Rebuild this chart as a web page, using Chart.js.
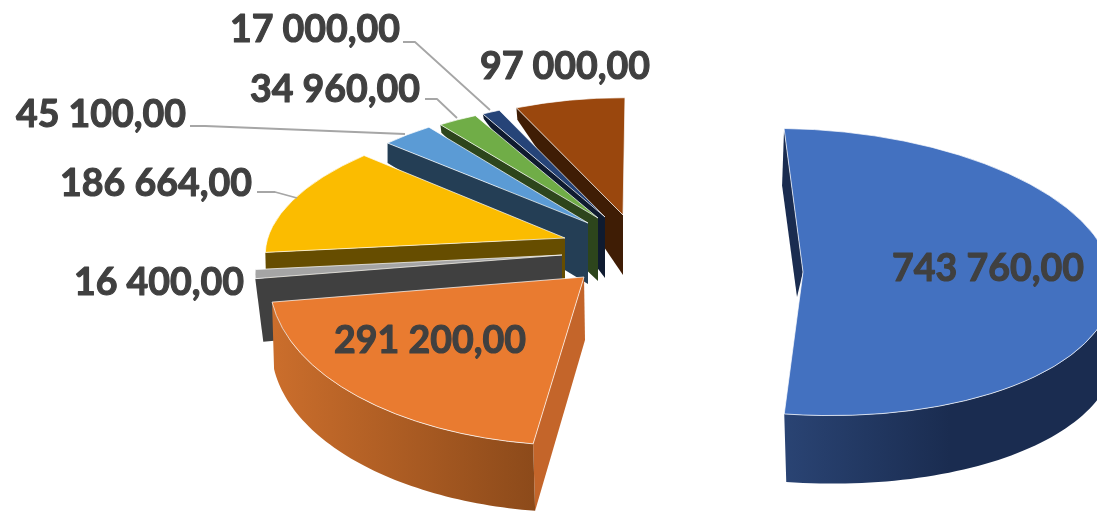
<!DOCTYPE html>
<html>
<head>
<meta charset="utf-8">
<style>html,body{margin:0;padding:0;background:#fff;overflow:hidden}canvas{display:block}</style>
<script src="https://cdn.jsdelivr.net/npm/chart.js@4"></script>
</head>
<body>
<canvas id="c" width="1097" height="511"></canvas>
<script>
// ---- data ----
const categories = ["A","B","C","D","E","F","G","H"];
const values = [743760, 291200, 16400, 186664, 45100, 34960, 17000, 97000];
const sliceColors = ["#4371C0","#E97B30","#A5A5A5","#FBBC00","#5B9BD5","#70AD47","#264478","#9A470D"];
const sideColors  = ["#1A2C50","#C4652A","#404040","#664D00","#243E55","#2D451C","#0F1B30","#3F1D05"];

// ---- 3-D pie look: explosion from the chart centre and the perspective matrix of each slice ----
const explode = [[254.5,16.5],[35.5,21.5],[13.5,-0.5],[16.5,-17.5],[39.5,-32.5],[49.5,-37.5],[56.5,-38.5],[74.5,-40.5]];
const perspective = [[310,13,0,143],[313,14,-32,168],[301,6,-60,128],[295,6,-53,127],[275,9,-28,119],[267,11,-23,114],[247,9,-11,116],[262,8,-18,117]];
// extrusion: rim depth, apex depth, rim x-shift, apex x-shift
const extrude = [[57,25,-2,-6],[67,63,2,1],[63,60,8,0],[40,60,1,0],[20,61,0,0],[8,63,1,0],[5,61,1,0],[12,60,1,0]];
const rimGradient = {0:[782,950,"#2A4474","#1A2C50"],1:[272,535,"#CB6E2C","#8C4A1A"]};
const rimThickness = {0:68,1:67};

// ---- data labels ----
const labelPos = [[988,269],[430,341],[159,283],[156,184],[101,115],[335,90],[315,30],[565,67]];
const leaderLines = {
  2:[], 0:[], 1:[], 7:[],
  3:[[257,192],[275,192],[297,198]],
  4:[[190,126],[205,126],[405,134]],
  5:[[425,99],[437,99],[457,118]],
  6:[[403,42],[415,42],[490,110]]
};
function fmt(v){
  return String(v).replace(/\B(?=(\d{3})+$)/g," ")+",00";
}

const pie3d = {
  id:"pie3d",
  beforeDatasetDraw(chart,args){
    const ctx = chart.ctx, arcs = args.meta.data;
    for(let i=arcs.length-1;i>=0;i--){
      const arc = arcs[i], R = arc.outerRadius;
      const [A,B,C,D] = perspective[i];
      const ax = arc.x+explode[i][0], ay = arc.y+explode[i][1];
      const pt = phi=>{const u=Math.cos(phi),v=Math.sin(phi);return [ax+A*u+C*v, ay+B*u+D*v];};
      const [rd,ad,rs,as] = extrude[i];

      // radial face on the start edge
      const p0 = pt(arc.startAngle);
      ctx.beginPath();
      ctx.moveTo(ax,ay);ctx.lineTo(p0[0],p0[1]);
      ctx.lineTo(p0[0]+rs,p0[1]+rd);ctx.lineTo(ax+as,ay+ad);ctx.closePath();
      ctx.fillStyle = sideColors[i];ctx.fill();

      // front rim
      if(rimThickness[i]){
        const a0 = Math.max(arc.startAngle,0), a1 = Math.min(arc.endAngle,Math.PI);
        const g = rimGradient[i], lg = ctx.createLinearGradient(g[0],0,g[1],0);
        lg.addColorStop(0,g[2]);lg.addColorStop(1,g[3]);
        ctx.beginPath();
        const N=60, t=rimThickness[i];
        for(let k=0;k<=N;k++){const p=pt(a0+(a1-a0)*k/N);k?ctx.lineTo(p[0],p[1]):ctx.moveTo(p[0],p[1]);}
        for(let k=N;k>=0;k--){const p=pt(a0+(a1-a0)*k/N);ctx.lineTo(p[0]+2,p[1]+t);}
        ctx.closePath();
        ctx.fillStyle = lg;ctx.fill();
      }

      // top face: the library's own arc under the slice's perspective matrix
      ctx.save();
      ctx.translate(ax,ay);
      ctx.transform(A/R,B/R,C/R,D/R,0,0);
      ctx.translate(-arc.x,-arc.y);
      arc.draw(ctx,chart.chartArea);
      ctx.beginPath();
      ctx.moveTo(arc.x,arc.y);
      ctx.arc(arc.x,arc.y,R,arc.startAngle,arc.endAngle);
      ctx.closePath();
      ctx.restore();
      ctx.strokeStyle="rgba(255,255,255,.7)";ctx.lineWidth=1;ctx.lineJoin="round";ctx.stroke();
    }
    return false;
  },
  afterDatasetsDraw(chart){
    const ctx = chart.ctx;
    ctx.save();
    ctx.strokeStyle="#A6A6A6";ctx.lineWidth=1.8;
    Object.values(leaderLines).forEach(l=>{
      if(!l.length)return;
      ctx.beginPath();l.forEach((p,k)=>k?ctx.lineTo(p[0],p[1]):ctx.moveTo(p[0],p[1]));ctx.stroke();
    });
    ctx.font='700 37.5px Lato';ctx.fillStyle="#404040";ctx.strokeStyle="#404040";ctx.lineWidth=1.1;ctx.lineJoin="round";
    ctx.textAlign="center";ctx.textBaseline="middle";
    values.forEach((v,i)=>{
      ctx.fillText(fmt(v),labelPos[i][0],labelPos[i][1]);
      ctx.strokeText(fmt(v),labelPos[i][0],labelPos[i][1]);
    });
    ctx.restore();
  }
};

new Chart(document.getElementById("c"),{
  type:"pie",
  data:{labels:categories,datasets:[{data:values,backgroundColor:sliceColors,borderWidth:0}]},
  options:{
    responsive:false,animation:false,rotation:-3.5,radius:100,
    layout:{padding:0},
    plugins:{legend:{display:false},tooltip:{enabled:false}}
  },
  plugins:[pie3d]
});
</script>
</body>
</html>
